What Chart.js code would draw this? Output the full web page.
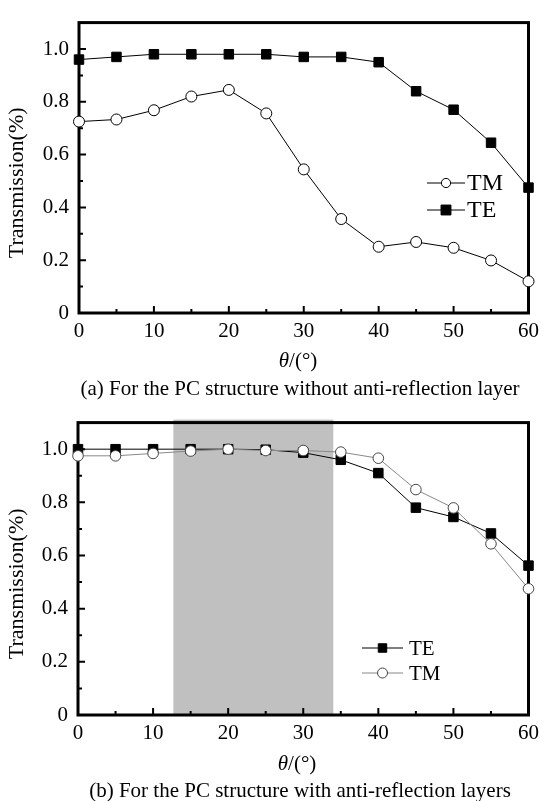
<!DOCTYPE html>
<html>
<head>
<meta charset="utf-8">
<script src="https://cdn.jsdelivr.net/npm/chart.js@4/dist/chart.umd.min.js"></script>
<style>
  body { margin: 0; background: #fff; width: 545px; height: 801px; position: relative; overflow: hidden;
         font-family: "Liberation Serif", "Times New Roman", serif; color: #000; }
  canvas { position: absolute; left: 0; }
  .txt { position: absolute; white-space: nowrap; line-height: 24px; height: 24px; transform: translateX(-50%); }
</style>
</head>
<body>
<canvas id="chartA" width="545" height="400" style="top:0"></canvas>
<canvas id="chartB" width="545" height="401" style="top:400px"></canvas>
<div class="txt" style="left:298px;top:348px;font-size:21px"><i>θ</i>/(°)</div>
<div class="txt" style="left:300px;top:376px;font-size:21px">(a) For the PC structure without anti-reflection layer</div>
<div class="txt" style="left:297px;top:751px;font-size:21px"><i>θ</i>/(°)</div>
<div class="txt" style="left:300px;top:778px;font-size:21px">(b) For the PC structure with anti-reflection layers</div>
<script>
const angles = [0, 5, 10, 15, 20, 25, 30, 35, 40, 45, 50, 55, 60];
// (a) without anti-reflection layer
const teWithout = [0.96, 0.97, 0.98, 0.98, 0.98, 0.98, 0.97, 0.97, 0.95, 0.84, 0.77, 0.645, 0.475];
const tmWithout = [0.725, 0.733, 0.768, 0.82, 0.845, 0.756, 0.544, 0.356, 0.251, 0.269, 0.247, 0.199, 0.12];
// (b) with anti-reflection layers
const teWith = [1.0, 1.0, 1.0, 1.0, 1.0, 0.998, 0.987, 0.96, 0.91, 0.78, 0.745, 0.683, 0.562];
const tmWith = [0.975, 0.975, 0.984, 0.993, 1.0, 0.995, 0.995, 0.989, 0.966, 0.848, 0.779, 0.644, 0.475];
const shadeRange = [12.7, 34];

const xTicks = [0, 10, 20, 30, 40, 50, 60];
const xMinor = [5, 15, 25, 35, 45, 55];
const yTicks = [0, 0.2, 0.4, 0.6, 0.8, 1.0];
const yMinor = [0.1, 0.3, 0.5, 0.7, 0.9];
const yTitle = "Transmission(%)";

const FONT = "'Liberation Serif', 'Times New Roman', serif";

function points(vals) {
  return angles.map((a, i) => ({ x: a, y: vals[i] }));
}

function drawMarker(ctx, style, x, y, r, fill, stroke) {
  ctx.beginPath();
  if (style === "rect") {
    const s = r * Math.SQRT1_2;
    ctx.rect(x - s, y - s, 2 * s, 2 * s);
  } else {
    ctx.arc(x, y, r, 0, Math.PI * 2);
  }
  ctx.fillStyle = fill;
  ctx.fill();
  ctx.lineWidth = 1;
  ctx.strokeStyle = stroke;
  ctx.stroke();
}

const framePlugin = {
  id: "frame",
  beforeDatasetsDraw(chart, args, o) {
    const { ctx, chartArea: a } = chart;
    const x = chart.scales.x, y = chart.scales.y;
    ctx.save();
    if (o.shade) {
      const x0 = x.getPixelForValue(o.shade[0]);
      const x1 = x.getPixelForValue(o.shade[1]);
      ctx.fillStyle = "#c0c0c0";
      ctx.fillRect(x0, a.top - 3, x1 - x0, a.bottom - a.top + 3);
    }
    ctx.strokeStyle = "#000";
    ctx.lineWidth = 2;
    ctx.beginPath();
    yTicks.forEach(v => { const p = y.getPixelForValue(v); ctx.moveTo(a.left, p); ctx.lineTo(a.left + 7, p); });
    yMinor.forEach(v => { const p = y.getPixelForValue(v); ctx.moveTo(a.left, p); ctx.lineTo(a.left + 4, p); });
    xTicks.forEach(v => { const p = x.getPixelForValue(v); ctx.moveTo(p, a.bottom); ctx.lineTo(p, a.bottom - 7); });
    xMinor.forEach(v => { const p = x.getPixelForValue(v); ctx.moveTo(p, a.bottom); ctx.lineTo(p, a.bottom - 4); });
    ctx.stroke();
    ctx.lineWidth = 3;
    ctx.strokeRect(a.left, a.top, a.right - a.left, a.bottom - a.top);

    // y axis title
    ctx.translate(17, (a.top + a.bottom) / 2 + 15);
    ctx.rotate(-Math.PI / 2);
    ctx.fillStyle = "#000";
    ctx.font = "22px " + FONT;
    ctx.textAlign = "center";
    ctx.textBaseline = "middle";
    ctx.fillText(yTitle, 0, 0);
    ctx.restore();
  },
  afterDatasetsDraw(chart, args, o) {
    const ctx = chart.ctx;
    const lg = o.legend;
    ctx.save();
    lg.rows.forEach(row => {
      const ds = chart.data.datasets.find(d => d.label === row.label);
      ctx.beginPath();
      ctx.moveTo(lg.x, row.y);
      ctx.lineTo(lg.x + lg.len, row.y);
      ctx.lineWidth = 1;
      ctx.strokeStyle = ds.borderColor;
      ctx.stroke();
      drawMarker(ctx, ds.pointStyle, lg.x + lg.len / 2, row.y, row.r,
                 ds.pointBackgroundColor, ds.pointBorderColor);
      ctx.fillStyle = "#000";
      ctx.font = lg.size + "px " + FONT;
      ctx.textAlign = "left";
      ctx.textBaseline = "middle";
      ctx.fillText(ds.label, lg.textX, row.y + 1);
    });
    ctx.restore();
  }
};

function makeChart(id, datasets, cfg) {
  return new Chart(document.getElementById(id), {
    type: "line",
    data: { datasets: datasets },
    options: {
      responsive: false,
      animation: false,
      layout: { padding: { left: 0, top: cfg.top, right: cfg.right, bottom: 0 } },
      scales: {
        x: {
          type: "linear",
          min: 0,
          max: 60,
          afterBuildTicks: s => { s.ticks = xTicks.map(v => ({ value: v })); },
          afterFit: s => { s.height = cfg.xHeight; },
          grid: { display: false, drawTicks: false },
          border: { display: false },
          ticks: { color: "#000", padding: 6, maxRotation: 0, font: { family: FONT, size: 21 },
                   callback: v => String(v) }
        },
        y: {
          min: 0,
          max: 1.1,
          afterBuildTicks: s => { s.ticks = yTicks.map(v => ({ value: v })); },
          afterFit: s => { s.width = cfg.yWidth; },
          grid: { display: false, drawTicks: false },
          border: { display: false },
          ticks: { color: "#000", padding: 10, font: { family: FONT, size: 21 },
                   callback: v => (v === 0 ? "0" : v.toFixed(1)) }
        }
      },
      plugins: {
        legend: { display: false },
        tooltip: { enabled: false },
        frame: { shade: cfg.shade, legend: cfg.legend }
      }
    },
    plugins: [framePlugin]
  });
}

const lineBase = { borderWidth: 1, tension: 0, clip: false, pointBorderWidth: 1 };

makeChart("chartA", [
  Object.assign({}, lineBase, {
    label: "TM", data: points(tmWithout), borderColor: "#000",
    pointStyle: "circle", pointRadius: 5.5, pointBackgroundColor: "#fff", pointBorderColor: "#000"
  }),
  Object.assign({}, lineBase, {
    label: "TE", data: points(teWithout), borderColor: "#000",
    pointStyle: "rect", pointRadius: 6.7, pointBackgroundColor: "#000", pointBorderColor: "#000"
  })
], {
  top: 13, right: 12, yWidth: 79, xHeight: 87, shade: null,
  legend: { x: 427, len: 38, textX: 467, size: 24,
            rows: [{ label: "TM", y: 183, r: 4.6 }, { label: "TE", y: 210, r: 7 }] }
});

makeChart("chartB", [
  Object.assign({}, lineBase, {
    label: "TM", order: 0, data: points(tmWith), borderColor: "#888",
    pointStyle: "circle", pointRadius: 5.3, pointBackgroundColor: "#fff", pointBorderColor: "#444"
  }),
  Object.assign({}, lineBase, {
    label: "TE", order: 1, data: points(teWith), borderColor: "#000",
    pointStyle: "rect", pointRadius: 6.7, pointBackgroundColor: "#000", pointBorderColor: "#000"
  })
], {
  top: 12, right: 13, yWidth: 78, xHeight: 86, shade: shadeRange,
  legend: { x: 362, len: 41, textX: 409, size: 21,
            rows: [{ label: "TE", y: 248, r: 6 }, { label: "TM", y: 273, r: 5 }] }
});
</script>
</body>
</html>
